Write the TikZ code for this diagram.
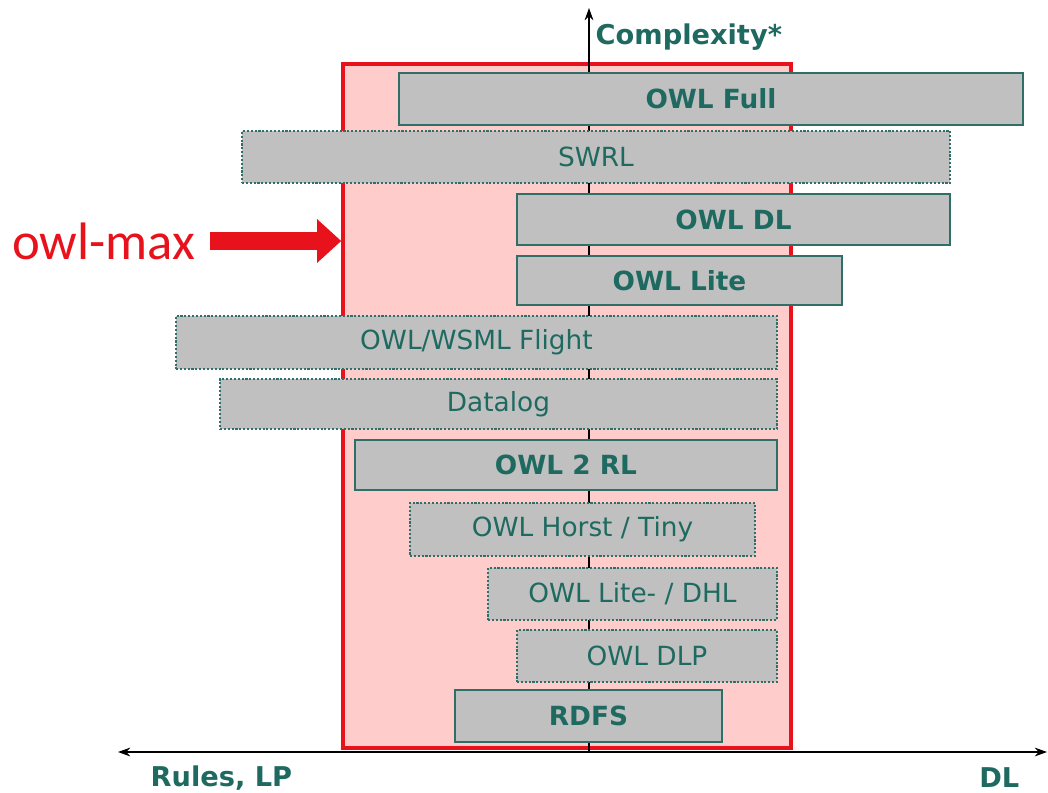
\documentclass[tikz,border=0pt]{standalone}
\usepackage{fontspec}
\setmainfont{DejaVu Sans}
\newfontfamily\calib{Carlito}
\usetikzlibrary{arrows.meta}
\definecolor{tealtext}{HTML}{1E6A60}
\definecolor{tealline}{HTML}{2F6F68}
\definecolor{boxgray}{HTML}{C0C0C0}
\definecolor{pinkfill}{HTML}{FFCCCC}
\definecolor{maxred}{HTML}{E8121C}
\begin{document}
\begin{tikzpicture}[x=0.02cm, y=-0.02cm, thick,
    lang/.style = {draw=tealline, fill=boxgray, text=tealtext, line width=1.2pt,
                   minimum height=#1, inner sep=0pt, font=\fontsize{15}{18}\selectfont},
    lang/.default = {1.0cm},
    solidbox/.style = {lang, font=\fontsize{15}{18}\selectfont\bfseries},
    dotbox/.style = {lang, densely dotted},
    axislabel/.style = {text=tealtext, font=\fontsize{15.5}{18}\selectfont\bfseries, inner sep=0pt}]
    \useasboundingbox (0,0) rectangle (1048,792);

    % owl-max region
    \node[draw=maxred, fill=pinkfill, line width=2pt, minimum width=448*0.02cm,
          minimum height=684*0.02cm, inner sep=0pt] (max) at (567,406) {};

    % axes
    \coordinate (origin) at (589,752);
    \coordinate (top) at (589,8);
    \coordinate (left) at (118,752);
    \coordinate (right) at (1047,752);
    \draw[-{Stealth[length=7pt,width=5pt]}, line width=0.6pt] (origin) -- (top);
    \draw[{Stealth[length=7pt,width=5pt]}-{Stealth[length=7pt,width=5pt]}, line width=0.6pt] (left) -- (right);

    \node[axislabel, anchor=west] (cx) at (595,37) {Complexity*};
    \node[axislabel, anchor=west] (rl) at (150,778) {Rules, LP};
    \node[axislabel, anchor=east] (dl) at (1020,778) {DL};

    % languages
    \node[solidbox, minimum width=624*0.02cm, minimum height=52*0.02cm] (full) at (711,99) {OWL Full};
    \node[dotbox, minimum width=708*0.02cm, minimum height=52*0.02cm] (swrl) at (596,157) {SWRL};
    \node[solidbox, minimum width=433*0.02cm, minimum height=51*0.02cm] (owldl) at (733.5,219.5) {OWL DL};
    \node[solidbox, minimum width=325*0.02cm, minimum height=49*0.02cm] (lite) at (679.5,280.5) {OWL Lite};
    \node[dotbox, minimum width=601*0.02cm, minimum height=53*0.02cm] (flight) at (476.5,342.5) {OWL/WSML Flight};
    \node[dotbox, minimum width=557*0.02cm, minimum height=50*0.02cm] (datalog) at (498.5,404) {Datalog};
    \node[solidbox, minimum width=422*0.02cm, minimum height=50*0.02cm] (rl2) at (566,465) {OWL 2 RL};
    \node[dotbox, minimum width=345*0.02cm, minimum height=53*0.02cm] (horst) at (582.5,529.5) {OWL Horst / Tiny};
    \node[dotbox, minimum width=289*0.02cm, minimum height=52*0.02cm] (dhl) at (632.5,594) {OWL Lite- / DHL};
    \node[dotbox, minimum width=260*0.02cm, minimum height=52*0.02cm] (dlp) at (647,656) {OWL DLP};
    \node[solidbox, minimum width=267*0.02cm, minimum height=52*0.02cm] (rdfs) at (588.5,716) {RDFS};

    % pointer
    \node[text=maxred, font=\calib\fontsize{30}{34}\selectfont, anchor=east, inner sep=0pt] (owlmax) at (196,241) {owl-max};
    \draw[maxred, line width=18*0.02cm, -{Triangle[length=24*0.02cm, width=42*0.02cm]}]
        (owlmax.east -| 210,0) -- (max.west |- owlmax.east);
\end{tikzpicture}
\end{document}
